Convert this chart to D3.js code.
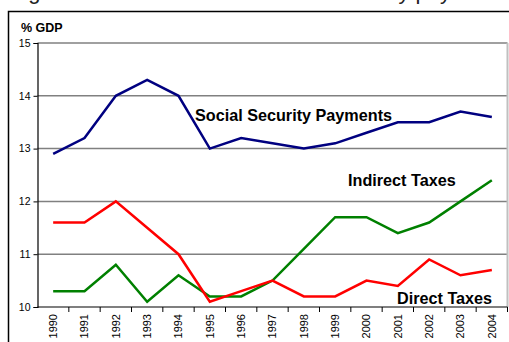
<!DOCTYPE html>
<html>
<head>
<meta charset="utf-8">
<script src="https://cdn.jsdelivr.net/npm/d3@7/dist/d3.min.js"></script>
<style>
  html, body { margin: 0; padding: 0; background: #fff; }
  svg { display: block; font-family: "Liberation Sans", Arial, sans-serif; }
</style>
</head>
<body>
<svg id="chart" width="509" height="342"></svg>
<script>
// Years on the category axis
const years = ["1990","1991","1992","1993","1994","1995","1996","1997","1998","1999","2000","2001","2002","2003","2004"];

// Series, % of GDP
const socialSecurity = [12.9, 13.2, 14.0, 14.3, 14.0, 13.0, 13.2, 13.1, 13.0, 13.1, 13.3, 13.5, 13.5, 13.7, 13.6];
const directTaxes    = [11.6, 11.6, 12.0, 11.5, 11.0, 10.1, 10.3, 10.5, 10.2, 10.2, 10.5, 10.4, 10.9, 10.6, 10.7];
const indirectTaxes  = [10.3, 10.3, 10.8, 10.1, 10.6, 10.2, 10.2, 10.5, 11.1, 11.7, 11.7, 11.4, 11.6, 12.0, 12.4];

// Value axis ticks
const yTicks = [10, 11, 12, 13, 14, 15];

const svg = d3.select("#chart");

// Figure caption, mostly above the visible area
svg.append("text")
  .attr("x", 10).attr("y", -1)
  .attr("font-size", 22).attr("fill", "#222")
  .text("Figure 4: Tax revenue and social security payments");

// Outer chart frame
svg.append("rect")
  .attr("x", 8.5).attr("y", 11.5)
  .attr("width", 520).attr("height", 360)
  .attr("fill", "none").attr("stroke", "#000").attr("stroke-width", 1.5);

const plot = { left: 37.5, top: 43, right: 507.5, bottom: 307 };

const x = d3.scaleBand().domain(years).range([plot.left, plot.right]);
const y = d3.scaleLinear().domain([10, 15]).range([plot.bottom, plot.top]);

// Horizontal gridlines
svg.append("g").selectAll("line")
  .data(yTicks.filter(t => t > 10))
  .join("line")
  .attr("x1", plot.left).attr("x2", plot.right)
  .attr("y1", d => y(d)).attr("y2", d => y(d))
  .attr("stroke", "#808080").attr("stroke-width", 1.5);

// Right plot border
svg.append("line")
  .attr("x1", plot.right).attr("x2", plot.right)
  .attr("y1", plot.top).attr("y2", plot.bottom)
  .attr("stroke", "#c0c0c0").attr("stroke-width", 2);

// Y axis
const yAxis = svg.append("g")
  .attr("transform", `translate(${plot.left},0)`)
  .call(d3.axisLeft(y).tickValues(yTicks).tickFormat(d3.format("d")).tickSize(4).tickPadding(3));
yAxis.select(".domain").attr("stroke", "#000").attr("stroke-width", 1.2);
yAxis.selectAll(".tick line").attr("stroke", "#000");
yAxis.selectAll("text").attr("font-size", 10.5).attr("fill", "#000")
  .attr("font-family", "Liberation Sans, Arial, sans-serif");

// X axis: ticks sit on category boundaries, labels are rotated
const xAxisG = svg.append("g").attr("transform", `translate(0,${plot.bottom})`);
xAxisG.append("line")
  .attr("x1", plot.left).attr("x2", plot.right)
  .attr("stroke", "#000").attr("stroke-width", 1.2);
xAxisG.selectAll("line.tk")
  .data(years)
  .join("line").attr("class", "tk")
  .attr("x1", d => x(d) + x.bandwidth()).attr("x2", d => x(d) + x.bandwidth())
  .attr("y1", 0).attr("y2", 5)
  .attr("stroke", "#000");
xAxisG.selectAll("text")
  .data(years)
  .join("text")
  .attr("transform", d => `translate(${x(d) + x.bandwidth() / 2 + 3.8},7) rotate(-90)`)
  .attr("text-anchor", "end")
  .attr("font-size", 11).attr("fill", "#000")
  .text(d => d);

// Axis title
svg.append("text")
  .attr("x", 21).attr("y", 32)
  .attr("font-size", 12.5).attr("font-weight", "bold")
  .text("% GDP");

// Series lines
const line = d3.line()
  .x((d, i) => x(years[i]) + x.bandwidth() / 2)
  .y(d => y(d));

const series = [
  { values: socialSecurity, color: "#000080" },
  { values: indirectTaxes,  color: "#008000" },
  { values: directTaxes,    color: "#ff0000" }
];

svg.append("g").selectAll("path")
  .data(series)
  .join("path")
  .attr("d", d => line(d.values))
  .attr("fill", "none")
  .attr("stroke", d => d.color)
  .attr("stroke-width", 2.5)
  .attr("stroke-linejoin", "miter");

// Series labels
const labels = [
  { text: "Social Security Payments", x: 195, y: 121 },
  { text: "Indirect Taxes", x: 348, y: 186 },
  { text: "Direct Taxes", x: 397, y: 304 }
];
svg.append("g").selectAll("text")
  .data(labels)
  .join("text")
  .attr("x", d => d.x).attr("y", d => d.y)
  .attr("font-size", 16.2).attr("font-weight", "bold").attr("fill", "#000")
  .text(d => d.text);
</script>
</body>
</html>
